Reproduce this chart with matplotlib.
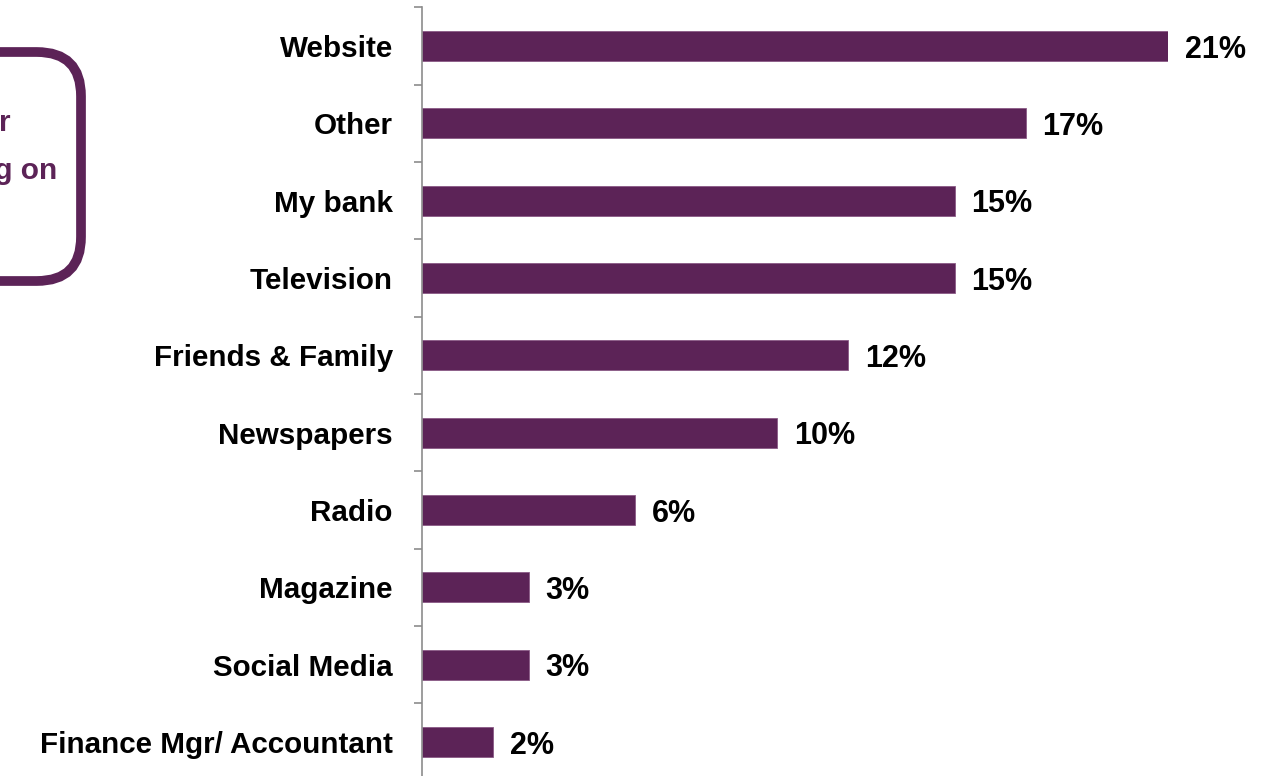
import matplotlib.pyplot as plt
from matplotlib.patches import FancyBboxPatch

categories = ["Website", "Other", "My bank", "Television", "Friends & Family",
              "Newspapers", "Radio", "Magazine", "Social Media",
              "Finance Mgr/ Accountant"]
values = [21, 17, 15, 15, 12, 10, 6, 3, 3, 2]
value_labels = ["21%", "17%", "15%", "15%", "12%", "10%", "6%", "3%", "3%", "2%"]

purple = '#5C2357'
W, H = 1264, 776
plt.rcParams['font.family'] = ['Liberation Sans', 'DejaVu Sans']

fig = plt.figure(figsize=(W / 100, H / 100), dpi=100)
# axes: x from 422 px to 1168 px (=21%), y spans 10 categories
n = len(categories)
step = (742 - 46) / (n - 1)
top = 46 - step / 2
bottom = 742 + step / 2
ax = fig.add_axes([422 / W, 1 - bottom / H, (1168 - 422) / W, (bottom - top) / H])

y = list(range(n))
ax.barh(y, values, height=0.39, color=purple, edgecolor='#8a5a86', linewidth=0.6)
ax.set_xlim(0, 21)
ax.set_ylim(n - 0.5, -0.5)

for yi, v, lab in zip(y, values, value_labels):
    ax.text(v + 0.47, yi, lab, va='center_baseline', ha='left', fontsize=22,
            fontweight='bold', color='black', clip_on=False)

ax.set_yticks(y)
ax.set_yticklabels(categories, fontsize=21.3, fontweight='bold')
ax.tick_params(axis='y', which='major', length=0, pad=21)
ax.set_yticks([i - 0.5 for i in range(n + 1)], minor=True)
ax.tick_params(axis='y', which='minor', length=6, color='#8c8c8c', width=1.2, direction='out')
ax.set_xticks([])
for s in ['top', 'right', 'bottom']:
    ax.spines[s].set_visible(False)
ax.spines['left'].set_color('#8c8c8c')
ax.spines['left'].set_linewidth(1.2)

# partially visible callout box on the left
box = FancyBboxPatch((-150 / W, 1 - 281 / H), 231 / W, 229 / H,
                     boxstyle="round,pad=0,rounding_size=0.035",
                     transform=fig.transFigure, facecolor='white',
                     edgecolor=purple, linewidth=7, mutation_aspect=W / H,
                     clip_on=False)
fig.patches.append(box)
fig.text(11 / W, 1 - 120 / H, "r", ha='right', va='center_baseline', fontsize=21.5,
         fontweight='bold', color=purple)
fig.text(57 / W, 1 - 168 / H, "ng on", ha='right', va='center_baseline', fontsize=21.5,
         fontweight='bold', color=purple)

fig.savefig("out.png", dpi=100)
